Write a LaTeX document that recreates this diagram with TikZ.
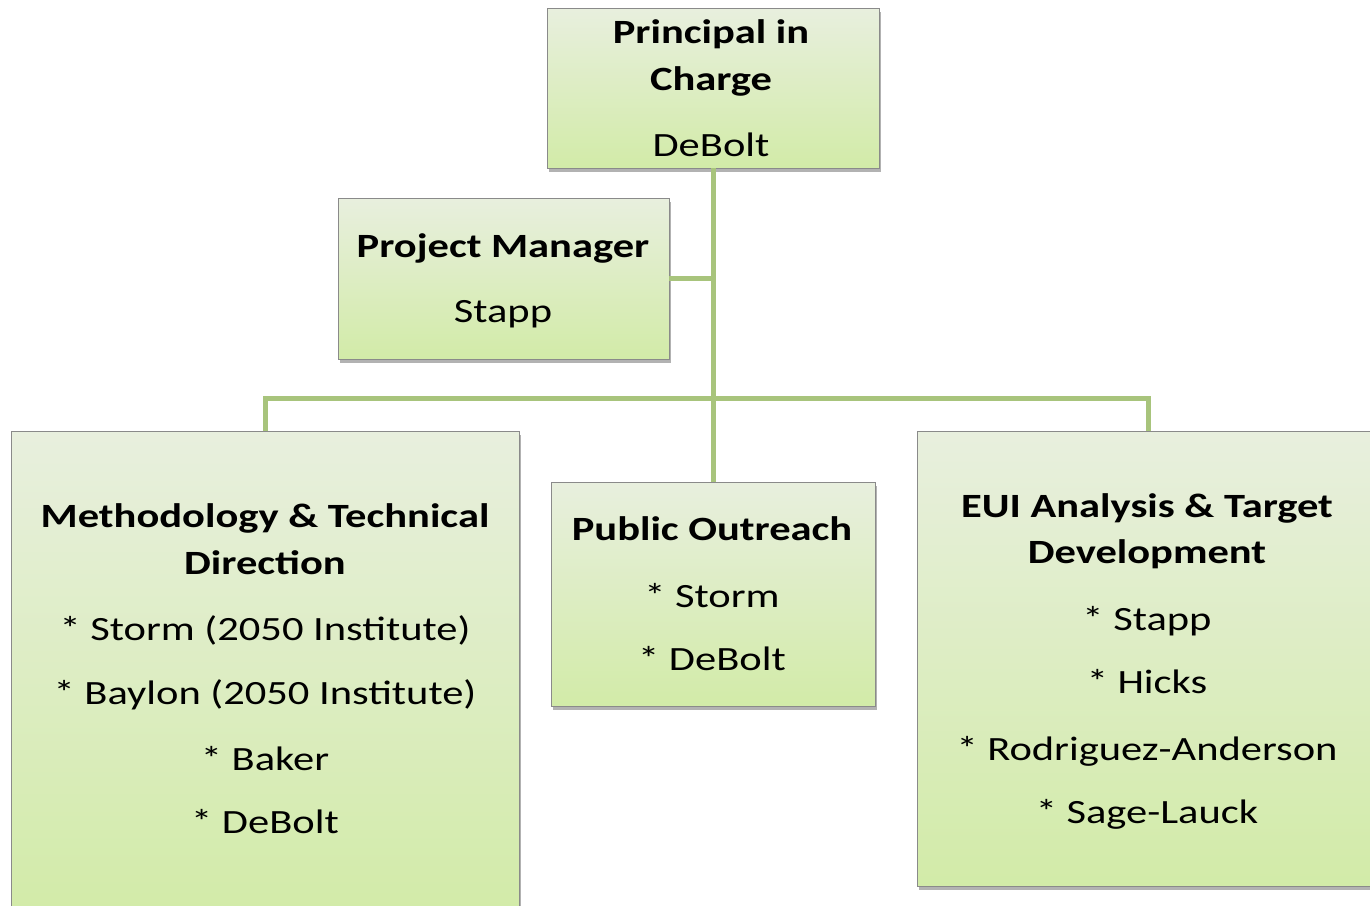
\documentclass[tikz,border=0pt]{standalone}
\usepackage{fontspec}
\setmainfont{Carlito}
\usetikzlibrary{shadows}
\definecolor{boxtop}{HTML}{E8EFDE}
\definecolor{boxbot}{HTML}{D2EBA8}
\definecolor{boxline}{HTML}{8A8A8A}
\definecolor{conn}{HTML}{A8C47C}
\tikzset{
  orgbox/.style={draw=boxline, line width=0.8pt, top color=boxtop, bottom color=boxbot, inner sep=0pt,
    drop shadow={shadow xshift=2pt, shadow yshift=-4pt, fill=black, opacity=0.3}},
  headtxt/.style={anchor=base, inner sep=0pt, xscale=1.25, transform shape, font=\fontsize{34}{40}\selectfont\bfseries},
  nametxt/.style={anchor=base, inner sep=0pt, xscale=1.25, transform shape, font=\fontsize{34}{40}\selectfont},
  link/.style={draw=conn, line width=5pt}
}
\begin{document}
\begin{tikzpicture}[x=1pt,y=-1pt]
\useasboundingbox (0,0) rectangle (1370,905);
\coordinate (bus) at (713,398);
% boxes
\node[orgbox, minimum width=332pt, minimum height=160pt] (princ) at (713,88) {};
\node[orgbox, minimum width=331pt, minimum height=161pt] (pm) at (503.5,278.5) {};
\node[orgbox, minimum width=508pt, minimum height=484pt] (meth) at (265,673) {};
\node[orgbox, minimum width=324pt, minimum height=224pt] (pub) at (713,594) {};
\node[orgbox, minimum width=463pt, minimum height=455pt] (eui) at (1148.5,658.5) {};
% connectors
\draw[link] (princ.south) -- (pub.north);
\draw[link] (pm.east) -- (pm.east -| princ.south);
\draw[link] (meth.north) |- (bus) -| (eui.north);
% texts
\node[headtxt] (t1) at (711,43) {Principal in};
\node[headtxt] (t2) at (711,90) {Charge};
\node[nametxt] (t3) at (711,156) {DeBolt};
\node[headtxt] (t4) at (503,257) {Project Manager};
\node[nametxt] (t5) at (503,322) {Stapp};
\node[headtxt] (t6) at (265,527) {Methodology \& Technical};
\node[headtxt] (t7) at (265,574) {Direction};
\node[nametxt] (t8) at (265,640) {* Storm (2050 Institute)};
\node[nametxt] (t9) at (265,704) {* Baylon (2050 Institute)};
\node[nametxt] (t10) at (265,770) {* Baker};
\node[nametxt] (t11) at (265,833) {* DeBolt};
\node[headtxt] (t12) at (712,540) {Public Outreach};
\node[nametxt] (t13) at (712,607) {* Storm};
\node[nametxt] (t14) at (712,670) {* DeBolt};
\node[headtxt] (t15) at (1147,517) {EUI Analysis \& Target};
\node[headtxt] (t16) at (1147,563) {Development};
\node[nametxt] (t17) at (1147,630) {* Stapp};
\node[nametxt] (t18) at (1147,693) {* Hicks};
\node[nametxt] (t19) at (1147,760) {* Rodriguez-Anderson};
\node[nametxt] (t20) at (1147,823) {* Sage-Lauck};
\end{tikzpicture}
\end{document}
